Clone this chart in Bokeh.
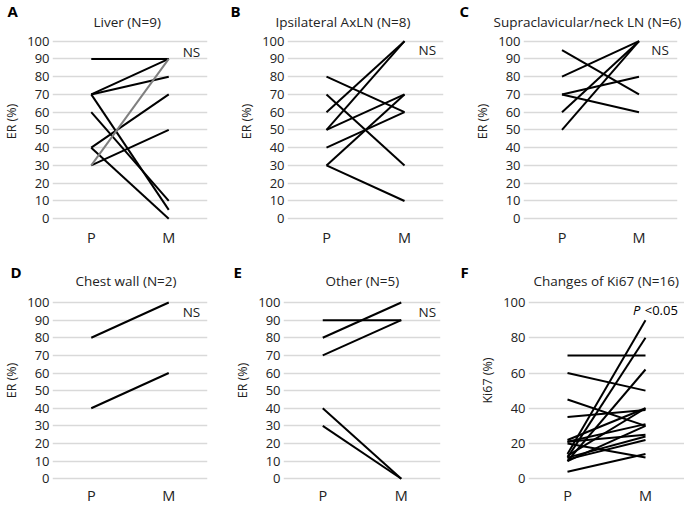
from bokeh.plotting import figure
from bokeh.models import Range1d, FixedTicker, Label, ColumnDataSource, Title
from bokeh.layouts import column, row
from bokeh.embed import file_html
from bokeh.resources import INLINE

# ---- data (ER / Ki67 %, primary P -> metastasis M) ----
x_labels = ["P", "M"]
er_ticks = [0, 10, 20, 30, 40, 50, 60, 70, 80, 90, 100]
ki_ticks = [0, 20, 40, 60, 80, 100]

A_title = "Liver (N=9)"
A_P = [90, 70, 70, 70, 60, 40, 40, 30, 30]
A_M = [90, 90, 80, 5, 10, 70, 0, 50, 90]
A_gray = [False, False, False, False, False, False, False, False, True]

B_title = "Ipsilateral AxLN (N=8)"
B_P = [80, 70, 60, 50, 50, 40, 30, 30]
B_M = [60, 30, 100, 100, 70, 60, 70, 10]

C_title = "Supraclavicular/neck LN (N=6)"
C_P = [95, 80, 70, 70, 60, 50]
C_M = [70, 100, 80, 60, 100, 100]

D_title = "Chest wall (N=2)"
D_P = [80, 40]
D_M = [100, 60]

E_title = "Other (N=5)"
E_P = [90, 80, 70, 40, 30]
E_M = [90, 100, 90, 0, 0]

F_title = "Changes of Ki67 (N=16)"
F_P = [70, 60, 45, 35, 22, 21, 20, 21, 14, 12, 10, 13, 10, 12, 11, 4]
F_M = [70, 50, 30, 39, 40, 31, 12, 25, 90, 80, 62, 40, 30, 24, 22, 14]

FONT = "Open Sans"
TXT = "#222222"


def panel(letter, title, P, M, gray, ticks, ylabel, w, h, bl, br, bt, bb,
          ymax, letter_off, title_off, s_letter, s_title, xstand,
          note_x, note_y, italic_p=False):
    p = figure(width=w, height=h, output_backend="svg", toolbar_location=None,
               x_range=Range1d(0.5, 2.5), y_range=Range1d(-1, ymax),
               min_border_left=bl, min_border_right=br,
               min_border_top=bt, min_border_bottom=bb)
    p.outline_line_color = None
    p.xgrid.grid_line_color = None
    p.ygrid.grid_line_color = "#d9d9d9"
    p.ygrid.grid_line_width = 1.5
    p.yaxis.ticker = FixedTicker(ticks=ticks)
    p.xaxis.ticker = FixedTicker(ticks=[1, 2])
    p.xaxis.major_label_overrides = {1: x_labels[0], 2: x_labels[1]}
    for ax in (p.xaxis, p.yaxis):
        ax.axis_line_color = None
        ax.major_tick_line_color = None
        ax.minor_tick_line_color = None
        ax.major_tick_out = 0
        ax.major_tick_in = 0
        ax.minor_tick_out = 0
        ax.minor_tick_in = 0
        ax.major_label_text_font = FONT
        ax.major_label_text_color = TXT
    p.yaxis.major_label_text_font_size = "13px"
    p.xaxis.major_label_text_font_size = "14.5px"
    p.yaxis.major_label_standoff = 3
    p.xaxis.major_label_standoff = xstand
    p.yaxis.axis_label = ylabel
    p.yaxis.axis_label_text_font = FONT
    p.yaxis.axis_label_text_font_style = "normal"
    p.yaxis.axis_label_text_font_size = "12.5px"
    p.yaxis.axis_label_standoff = 4
    p.yaxis.axis_label_text_color = TXT

    # no main title; inner band: panel title, outer band: panel letter
    p.title.text = ""
    p.add_layout(Title(text=title, align="left", offset=title_off,
                       text_font=FONT, text_font_size="13.5px",
                       text_font_style="normal", text_color=TXT,
                       standoff=s_title, vertical_align="middle"), "above")
    p.add_layout(Title(text=letter, align="left", offset=letter_off,
                       text_font=FONT, text_font_size="15px",
                       text_font_style="bold", text_color="black",
                       standoff=s_letter, vertical_align="middle"), "above")

    cols = ["#7f7f7f" if g else "black" for g in gray]
    src = ColumnDataSource(dict(p=P, m=M, c=cols))
    p.segment(x0=1, y0="p", x1=2, y1="m", source=src, line_color="c",
              line_width=2)

    if italic_p:
        p.add_layout(Label(x=note_x, y=note_y, text="P", text_font=FONT,
                           text_font_size="13px", text_font_style="italic",
                           text_baseline="middle", text_align="left",
                           text_color="black"))
        p.add_layout(Label(x=note_x + 0.15, y=note_y, text="<0.05",
                           text_font=FONT, text_font_size="13px",
                           text_baseline="middle", text_align="left",
                           text_color="black"))
    else:
        p.add_layout(Label(x=note_x, y=note_y, text="NS", text_font=FONT,
                           text_font_size="13.5px", text_baseline="middle",
                           text_align="left", text_color=TXT))
    return p


# top row: letter band 20px, title band ~2px -> frame top at 22
pa = panel("A", A_title, A_P, A_M, A_gray, er_ticks, "ER (%)", 226, 262,
           50, 19, 20, 42, 110.5, -45, 41, -2, -18, 7, 2.18, 94)
pb = panel("B", B_title, B_P, B_M, [False] * 8, er_ticks, "ER (%)", 229, 262,
           61, 12, 20, 42, 110.5, -57, -12, -2, -18, 7, 2.18, 95)
pc = panel("C", C_title, C_P, C_M, [False] * 6, er_ticks, "ER (%)", 229, 262,
           68, 7, 20, 42, 110.5, -64, -30, -2, -18, 7, 2.16, 95)
# bottom row: letter band 18px, title band ~0px -> frame top at 18
pd = panel("D", D_title, D_P, D_M, [False] * 2, er_ticks, "ER (%)", 226, 245,
           50, 19, 16, 27, 112.5, -42, 23, -4, -20, 5, 2.18, 94.4)
pe = panel("E", E_title, E_P, E_M, [False] * 5, er_ticks, "ER (%)", 229, 245,
           57, 15, 16, 27, 112.5, -50, 42, -4, -20, 5, 2.22, 94.7)
pf = panel("F", F_title, F_P, F_M, [False] * 16, ki_ticks, "Ki67 (%)", 229, 245,
           73, 0, 16, 27, 112.5, -68, 5, -4, -20, 5, 1.84, 95.5, italic_p=True)

layout = column(row(pa, pb, pc), row(pd, pe, pf))
open("out.html", "w").write(file_html(layout, INLINE))
